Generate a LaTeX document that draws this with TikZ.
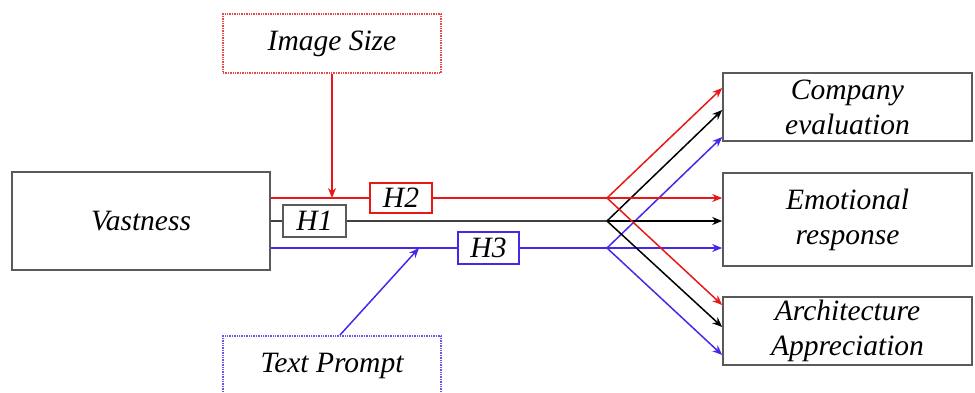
\documentclass[tikz,border=0pt]{standalone}
\usepackage{fontspec}
\setmainfont{Liberation Serif}
\usetikzlibrary{arrows.meta}
\definecolor{hred}{RGB}{232,24,24}
\definecolor{hblue}{RGB}{72,40,232}
\definecolor{boxgray}{RGB}{90,90,90}
\tikzset{
  x=1pt, y=-1pt,
  every node/.style={font=\fontsize{29.5}{35}\selectfont\itshape, inner sep=0pt},
  mainbox/.style={draw=boxgray, line width=1.6pt, fill=white, align=center},
  modbox/.style={densely dotted, line width=1.4pt, fill=white},
  hbox/.style={draw, line width=1.5pt, fill=white},
  link/.style={line width=1.5pt},
  arr/.style={line width=1.5pt, -{Stealth[length=10pt,width=8pt]}},
}
\begin{document}
\begin{tikzpicture}
\useasboundingbox (0,0) rectangle (975,392);
\clip (0,0) rectangle (975,392);

% boxes
\node[mainbox, minimum width=258pt, minimum height=98pt] (vast) at (141,221) {Vastness};
\node[modbox, draw=hred!80, minimum width=218pt, minimum height=59pt] (imgsize) at (332,43.5) {Image Size};
\node[modbox, draw=hblue!80, minimum width=218pt, minimum height=59pt] (prompt) at (332,365.5) {Text Prompt};

\node[mainbox, minimum width=249pt, minimum height=68pt] (comp) at (847.5,107) {Company\\evaluation};
\node[mainbox, minimum width=249pt, minimum height=93pt] (emo) at (847.5,219.5) {Emotional\\response};
\node[mainbox, minimum width=249pt, minimum height=68pt] (arch) at (847.5,331) {Architecture\\Appreciation};

\node[hbox, draw=hred, minimum width=62pt, minimum height=30pt] (h2) at (401,198) {H2};
\node[hbox, draw=boxgray, minimum width=63pt, minimum height=32pt] (h1) at (314.5,221) {H1};
\node[hbox, draw=hblue, minimum width=61pt, minimum height=32pt] (h3) at (488.5,248) {H3};

% split points and line anchors
\coordinate (r0) at (271,198);
\coordinate (k0) at (271,221);
\coordinate (b0) at (271,248);
\coordinate (rs) at (607,198);
\coordinate (ks) at (607,221);
\coordinate (bs) at (607,248);
\coordinate (rhit) at (332,198);
\coordinate (bstart) at (340,335);
\coordinate (bhit) at (419,248);

% main paths
\draw[link, hred] (r0) -- (h2.west);
\draw[link, hred] (h2.east) -- (rs);
\draw[link, black!75] (k0) -- (h1.west);
\draw[link, black!75] (h1.east) -- (ks);
\draw[link, hblue] (b0) -- (h3.west);
\draw[link, hblue] (h3.east) -- (bs);

% moderators
\draw[arr, hred] (imgsize.south) -- (rhit);
\draw[arr, hblue] (bstart) -- (bhit);

% fan-out to outcomes
\draw[arr, hred] (rs) -- ([yshift=19pt]comp.west);
\draw[arr, black] (ks) -- ([yshift=-3pt]comp.west);
\draw[arr, hblue] (bs) -- ([yshift=-30pt]comp.west);

\draw[arr, hred] (rs) -- (emo.west |- rs);
\draw[arr, black] (ks) -- (emo.west |- ks);
\draw[arr, hblue] (bs) -- (emo.west |- bs);

\draw[arr, hred] (rs) -- ([yshift=26pt]arch.west);
\draw[arr, black] (ks) -- ([yshift=4pt]arch.west);
\draw[arr, hblue] (bs) -- ([yshift=-24pt]arch.west);
\end{tikzpicture}
\end{document}
